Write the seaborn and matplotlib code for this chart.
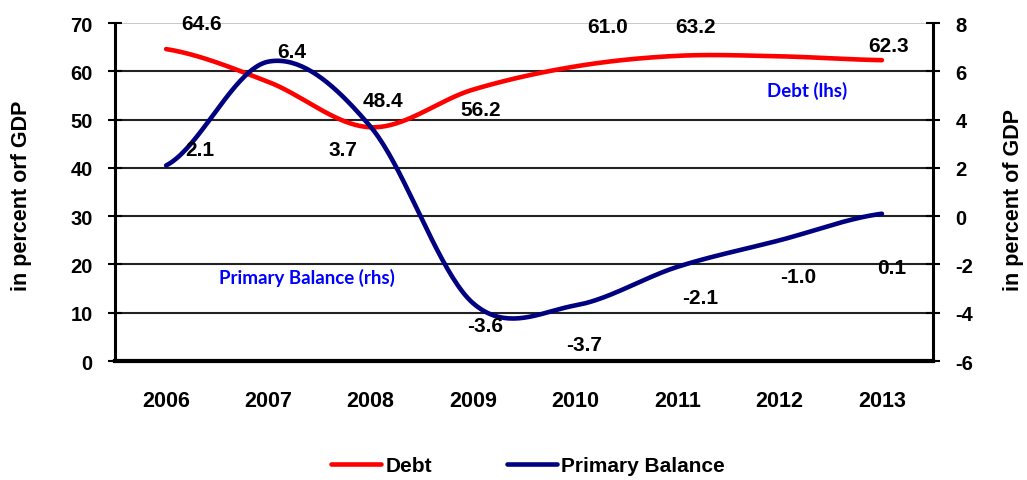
import numpy as np
import pandas as pd
import seaborn as sns
import matplotlib.pyplot as plt
from matplotlib.lines import Line2D

# data
years = ["2006", "2007", "2008", "2009", "2010", "2011", "2012", "2013"]
debt = [64.6, 57.8, 48.4, 56.2, 61.0, 63.2, 63.1, 62.3]
primary_balance = [2.1, 6.4, 3.7, -3.6, -3.7, -2.1, -1.0, 0.1]

# which points carry a value label in the original
debt_labelled = [0, 2, 3, 4, 5, 7]
pb_labelled = [0, 1, 2, 3, 4, 5, 6, 7]

# label placement (category x, axis y)
debt_label_pos = [(0.35, 69.8), (2.12, 54.0), (3.08, 52.0), (4.32, 69.2), (5.18, 69.2), (7.07, 65.4)]
pb_label_pos = [(0.33, 2.74), (1.23, 6.84), (1.73, 2.74), (3.12, -4.51), (4.09, -5.30),
                (5.22, -3.35), (6.18, -2.48), (7.10, -2.11)]

RED = "#ff0000"
NAVY = "#000080"


def smooth(values, n=40):
    """Catmull-Rom curve through the points, like Excel's smoothed line."""
    y = np.asarray(values, dtype=float)
    p = np.concatenate([[y[0]], y, [y[-1]]])
    xs, ys = [], []
    for i in range(len(y) - 1):
        t = np.linspace(0, 1, n, endpoint=(i == len(y) - 2))
        p0, p1, p2, p3 = p[i], p[i + 1], p[i + 2], p[i + 3]
        m1, m2 = (p2 - p0) / 2, (p3 - p1) / 2
        h00 = 2 * t**3 - 3 * t**2 + 1
        h10 = t**3 - 2 * t**2 + t
        h01 = -2 * t**3 + 3 * t**2
        h11 = t**3 - t**2
        xs.append(i + t)
        ys.append(h00 * p1 + h10 * m1 + h01 * p2 + h11 * m2)
    return pd.DataFrame({"x": np.concatenate(xs), "y": np.concatenate(ys)})


sns.set_theme(style="white")
plt.rcParams["font.family"] = ["Liberation Sans", "DejaVu Sans"]
plt.rcParams["font.weight"] = "bold"
plt.rcParams["axes.unicode_minus"] = False
plt.rcParams["text.color"] = "black"
plt.rcParams["xtick.color"] = "black"
plt.rcParams["ytick.color"] = "black"

fig = plt.figure(figsize=(10.27, 4.81), dpi=100)
ax = fig.add_axes([0.112, 0.2474, 0.7965, 0.7027])
ax2 = ax.twinx()

debt_curve = smooth(debt)
pb_curve = smooth(primary_balance)
sns.lineplot(data=debt_curve, x="x", y="y", ax=ax, color=RED, lw=3.3,
             sort=False, estimator=None, solid_capstyle="round")
sns.lineplot(data=pb_curve, x="x", y="y", ax=ax2, color=NAVY, lw=3.3,
             sort=False, estimator=None, solid_capstyle="round")

ax.set_xlim(-0.5, len(years) - 0.5)
ax.set_ylim(0, 70)
ax2.set_ylim(-6, 8)
ax.set_yticks(range(0, 71, 10))
ax2.set_yticks(range(-6, 9, 2))
ax.set_xlabel("")
ax.set_ylabel("")
ax2.set_ylabel("")

# category boundaries as ticks, year names in the middle
ax.set_xticks(np.arange(-0.5, len(years), 1.0))
ax.set_xticklabels([])
ax.set_xticks(range(len(years)), minor=True)
ax.set_xticklabels(years, minor=True)
ax.tick_params(axis="x", which="major", direction="inout", length=11, width=1.5, color="black")
ax.tick_params(axis="x", which="minor", length=0, pad=21, labelsize=15.5, labelcolor="black")
ax.tick_params(axis="y", direction="inout", length=10, width=1.5, color="black", pad=11,
               labelsize=14.5, labelcolor="black")
ax2.tick_params(axis="y", direction="inout", length=10, width=1.5, color="black", pad=11,
                labelsize=14.5, labelcolor="black")

ax.yaxis.grid(True, color="#222222", lw=1.5)
ax.xaxis.grid(False)
ax2.grid(False)
ax.get_ygridlines()[-1].set_color("#c0c0c0")
ax.get_ygridlines()[-1].set_linewidth(1.2)

for s in ["top", "right"]:
    ax.spines[s].set_visible(False)
for s in ["top", "left", "bottom"]:
    ax2.spines[s].set_visible(False)
ax.spines["left"].set_color("black")
ax.spines["left"].set_linewidth(2.2)
ax.spines["bottom"].set_color("black")
ax.spines["bottom"].set_linewidth(3)
ax2.spines["right"].set_color("black")
ax2.spines["right"].set_linewidth(2.2)

for i, (lx, ly) in zip(debt_labelled, debt_label_pos):
    ax.text(lx, ly, f"{debt[i]:.1f}", ha="center", va="center", fontsize=15,
            fontweight="bold", color="black")
for i, (lx, ly) in zip(pb_labelled, pb_label_pos):
    ax2.text(lx, ly, f"{primary_balance[i]:.1f}", ha="center", va="center", fontsize=15,
             fontweight="bold", color="black")

ax.text(6.27, 56.1, "Debt (lhs)", ha="center", va="center", fontsize=13.5,
        fontweight="bold", color="#0000ff", family=["Lato", "DejaVu Sans"])
ax.text(1.38, 17.4, "Primary Balance (rhs)", ha="center", va="center", fontsize=13.5,
        fontweight="bold", color="#0000ff", family=["Lato", "DejaVu Sans"])

fig.text(0.021, 1 - 196 / 481, "in percent orf GDP", rotation=90, ha="center", va="center",
         fontsize=15.5, fontweight="bold")
fig.text(0.987, 1 - 200 / 481, "in percent of GDP", rotation=90, ha="center", va="center",
         fontsize=15.5, fontweight="bold")

handles = [Line2D([], [], color=RED, lw=3.3), Line2D([], [], color=NAVY, lw=3.3)]
fig.legend(handles, ["Debt", "Primary Balance"], loc="center", bbox_to_anchor=(0.514, 0.03),
           ncol=2, frameon=False, handlelength=2.4, handletextpad=0.2, columnspacing=3.6,
           prop={"size": 15, "weight": "bold"})

fig.savefig("out.png", dpi=100)
